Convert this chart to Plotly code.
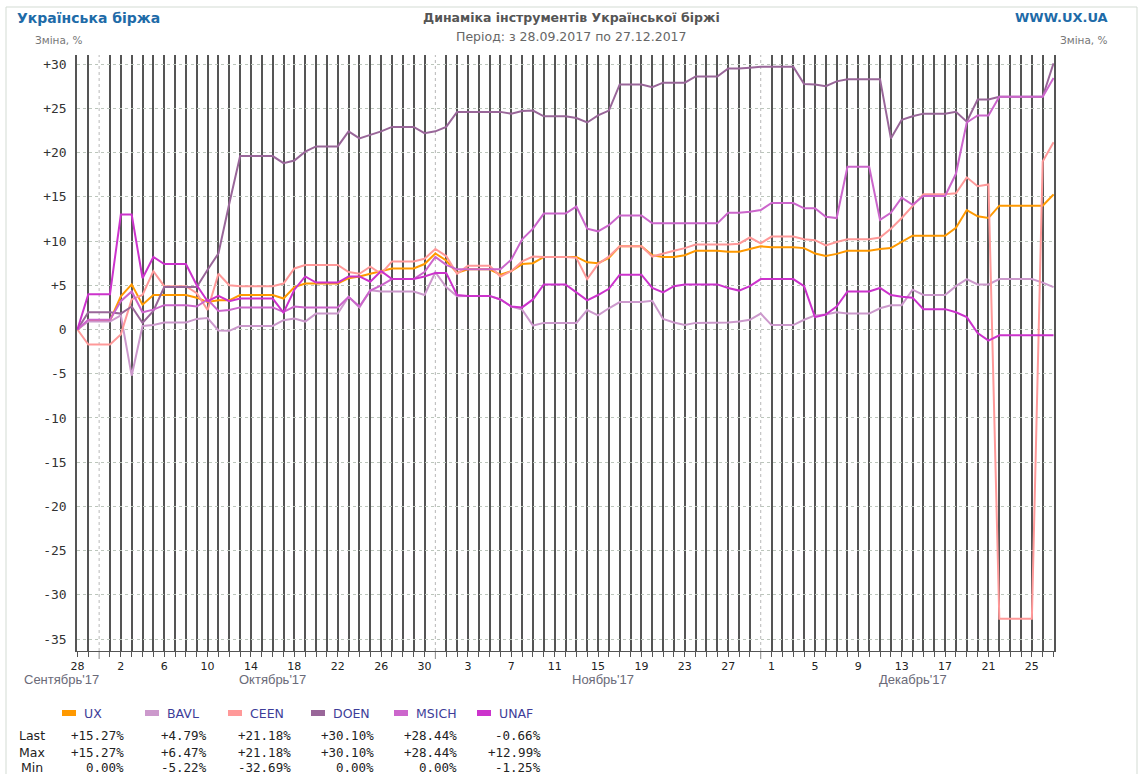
import plotly.graph_objects as go
import pandas as pd

# ---------------- data ----------------
start_date = "2017-09-28"
end_date = "2017-12-27"
dates = pd.date_range(start_date, end_date, freq="D")

series_names = ["UX", "BAVL", "CEEN", "DOEN", "MSICH", "UNAF"]

ux = [0, 1.0, 1.0, 1.0, 3.75, 5.1, 2.8, 3.9, 3.9, 3.9,
      3.9, 3.6, 3.1, 3.3, 3.3, 3.9, 3.9, 3.9, 3.9, 3.5,
      4.8, 5.2, 5.2, 5.2, 5.2, 5.8, 6.0, 6.3, 6.6, 6.9,
      6.9, 6.9, 7.4, 8.6, 7.8, 6.4, 6.8, 6.8, 6.8, 6.2,
      6.6, 7.4, 7.5, 8.2, 8.2, 8.2, 8.2, 7.6, 7.5, 8.1,
      9.4, 9.4, 9.4, 8.4, 8.2, 8.2, 8.4, 8.9, 8.9, 8.9,
      8.8, 8.8, 9.1, 9.4, 9.3, 9.3, 9.3, 9.2, 8.6, 8.3,
      8.55, 8.9, 8.9, 8.9, 9.1, 9.2, 9.9, 10.6, 10.6, 10.6,
      10.6, 11.5, 13.5, 12.8, 12.6, 14.0, 14.0, 14.0, 14.0, 14.0,
      15.27]

bavl = [0, 0.9, 0.9, 0.9, 1.6, -5.22, 0.4, 0.5, 0.8, 0.8,
        0.8, 1.2, 1.3, -0.1, -0.15, 0.4, 0.4, 0.4, 0.4, 1.05,
        1.25, 0.9, 1.8, 1.8, 1.8, 3.7, 2.5, 4.45, 4.3, 4.3,
        4.3, 4.3, 3.9, 6.47, 4.8, 3.75, 3.8, 3.8, 3.8, 3.4,
        2.6, 2.25, 0.45, 0.75, 0.75, 0.75, 0.75, 2.2, 1.6, 2.4,
        3.1, 3.1, 3.1, 3.25, 1.2, 0.8, 0.5, 0.75, 0.75, 0.75,
        0.8, 0.9, 1.1, 1.8, 0.5, 0.5, 0.5, 1.1, 1.6, 1.7,
        1.95, 1.8, 1.8, 1.8, 2.4, 2.75, 2.75, 4.5, 3.9, 3.9,
        3.9, 4.9, 5.7, 5.1, 5.1, 5.7, 5.7, 5.7, 5.7, 5.3,
        4.79]

ceen = [0, -1.7, -1.7, -1.7, -0.55, 3.4, 3.9, 6.6, 4.9, 4.9,
        4.9, 4.1, 2.2, 6.3, 5.0, 4.9, 4.9, 4.9, 4.9, 5.2,
        6.9, 7.3, 7.3, 7.3, 7.3, 6.5, 6.3, 7.1, 6.3, 7.7,
        7.7, 7.7, 8.0, 9.1, 8.3, 6.3, 7.2, 7.2, 7.2, 6.0,
        6.6, 7.7, 8.25, 8.2, 8.2, 8.2, 8.1, 5.7, 7.4, 8.25,
        9.4, 9.4, 9.4, 8.25, 8.6, 8.9, 9.2, 9.6, 9.6, 9.6,
        9.6, 9.7, 10.4, 9.75, 10.5, 10.5, 10.5, 10.2, 10.1, 9.5,
        9.9, 10.2, 10.2, 10.2, 10.4, 11.4, 12.6, 13.9, 15.3, 15.3,
        15.3, 15.4, 17.2, 16.2, 16.4, -32.69, -32.69, -32.69, -32.69, 19.0,
        21.18]

doen = [0, 1.95, 1.95, 1.95, 1.8, 2.6, 0.75, 2.1, 4.8, 4.8,
        4.8, 4.8, 6.75, 8.6, 14.25, 19.6, 19.6, 19.6, 19.6, 18.8,
        19.1, 20.1, 20.7, 20.7, 20.7, 22.4, 21.6, 22.0, 22.4, 22.9,
        22.9, 22.9, 22.2, 22.4, 22.9, 24.6, 24.6, 24.6, 24.6, 24.6,
        24.4, 24.7, 24.75, 24.1, 24.1, 24.1, 23.9, 23.4, 24.2, 24.75,
        27.7, 27.7, 27.7, 27.4, 27.9, 27.9, 27.9, 28.6, 28.6, 28.6,
        29.5, 29.5, 29.6, 29.7, 29.7, 29.7, 29.7, 27.75, 27.7, 27.5,
        28.05, 28.3, 28.3, 28.3, 28.3, 21.6, 23.7, 24.1, 24.4, 24.4,
        24.4, 24.6, 23.5, 26.0, 26.0, 26.3, 26.3, 26.3, 26.3, 26.3,
        30.10]

msich = [0, 1.1, 1.1, 1.1, 3.2, 4.3, 1.95, 2.25, 2.75, 2.75,
         2.75, 2.6, 3.4, 2.1, 2.2, 2.5, 2.5, 2.5, 2.5, 2.0,
         2.6, 2.5, 2.5, 2.5, 2.5, 3.7, 2.6, 4.4, 5.0, 5.7,
         5.7, 5.7, 6.5, 8.2, 7.3, 6.8, 6.8, 6.8, 6.8, 6.8,
         7.9, 10.2, 11.4, 13.1, 13.1, 13.1, 13.9, 11.4, 11.1, 11.8,
         12.9, 12.9, 12.9, 12.0, 12.0, 12.0, 12.0, 12.0, 12.0, 12.0,
         13.2, 13.2, 13.3, 13.5, 14.3, 14.3, 14.3, 13.7, 13.7, 12.75,
         12.6, 18.4, 18.4, 18.4, 12.4, 13.2, 14.9, 14.1, 15.1, 15.1,
         15.1, 17.6, 23.4, 24.2, 24.2, 26.3, 26.3, 26.3, 26.3, 26.3,
         28.44]

unaf = [0, 4.0, 4.0, 4.0, 12.99, 12.99, 5.8, 8.2, 7.4, 7.4,
        7.4, 5.0, 3.2, 3.8, 3.2, 3.5, 3.5, 3.5, 3.5, 1.9,
        4.5, 6.0, 5.3, 5.3, 5.3, 6.0, 6.0, 5.4, 6.6, 5.7,
        5.7, 5.7, 6.0, 6.4, 6.4, 3.9, 3.8, 3.8, 3.8, 3.4,
        2.6, 2.5, 3.4, 5.1, 5.1, 5.1, 4.2, 3.3, 3.9, 4.6,
        6.2, 6.2, 6.2, 4.7, 4.2, 4.9, 5.1, 5.1, 5.1, 5.1,
        4.7, 4.4, 4.9, 5.7, 5.7, 5.7, 5.7, 4.9, 1.4, 1.7,
        2.6, 4.3, 4.3, 4.3, 4.7, 3.9, 3.7, 3.6, 2.3, 2.3,
        2.3, 1.95, 1.4, -0.4, -1.25, -0.66, -0.66, -0.66, -0.66, -0.66,
        -0.66]

series_values = [ux, bavl, ceen, doen, msich, unaf]
series_colors = ["#FF9900", "#CC99CC", "#FF9999", "#996699", "#CC66CC", "#CC33CC"]

y_tick_values = list(range(-35, 31, 5))
month_names = {9: "Сентябрь'17", 10: "Октябрь'17", 11: "Ноябрь'17", 12: "Декабрь'17"}

title_main = "Динаміка інструментів Української біржі"
title_period = "Період: з 28.09.2017 по 27.12.2017"
brand_left = "Українська біржа"
brand_right = "WWW.UX.UA"
axis_unit = "Зміна, %"
row_labels = ["Last", "Max", "Min"]

# ---------------- layout geometry ----------------
W, H = 1140, 774
L, R, T, B = 77, 1140 - 1054, 55, 774 - 651
PW = W - L - R
PH = H - T - B


def pxx(x):
    return (x - L) / PW


def pxy(y):
    return (H - B - y) / PH


SANS = "DejaVu Sans"
MONO = "DejaVu Sans Mono"

fig = go.Figure()
for name, vals, col in zip(series_names, series_values, series_colors):
    fig.add_trace(go.Scatter(x=dates, y=vals, mode="lines", name=name,
                             line=dict(color=col, width=2),
                             showlegend=False, hoverinfo="x+y+name"))

# x ticks: every day has a dark line except month ends (light dotted)
date_list = list(dates)
day_ticks, day_text = [], []
for i, d in enumerate(date_list):
    if d.is_month_end:
        continue
    day_ticks.append(d)
    day_text.append(str(d.day) if i % 4 == 0 else "")
month_ends = [d for d in date_list if d.is_month_end]

shapes = []
for d in month_ends:
    shapes.append(dict(type="line", xref="x", yref="paper", x0=d, x1=d, y0=0, y1=1,
                       line=dict(color="#b8b8b8", width=1, dash="dot"), layer="below"))
    shapes.append(dict(type="line", xref="x", yref="paper", x0=d, x1=d, y0=0, y1=-8 / PH,
                       line=dict(color="#888888", width=1), layer="below"))

# legend swatches
for i, (name, col) in enumerate(zip(series_names, series_colors)):
    x0 = 62 + 83 * i
    shapes.append(dict(type="rect", xref="paper", yref="paper",
                       x0=pxx(x0), x1=pxx(x0 + 14), y0=pxy(716), y1=pxy(710),
                       fillcolor=col, line=dict(width=0)))

# outer border
shapes.append(dict(type="rect", xref="paper", yref="paper",
                   x0=pxx(6), x1=pxx(1137), y0=pxy(800), y1=pxy(7),
                   line=dict(color="#d3dbd3", width=1), fillcolor="rgba(0,0,0,0)"))

annotations = []


def ann(text, x, y, size, color, xanchor="center", family=SANS, bold=False):
    t = f"<b>{text}</b>" if bold else text
    annotations.append(dict(text=t, x=pxx(x), y=pxy(y), xref="paper", yref="paper",
                            showarrow=False, xanchor=xanchor, yanchor="middle",
                            font=dict(family=family, size=size, color=color)))


ann(title_main, 571, 18, 12.5, "#555555", bold=True)
ann(title_period, 571, 37, 12.5, "#666666")
ann(brand_left, 15, 18, 14, "#1E6BA8", xanchor="left", bold=True)
ann(brand_right, 1110, 18, 13, "#1E6BA8", xanchor="right", bold=True)
ann(axis_unit, 33, 40, 10.5, "#777777", xanchor="left")
ann(axis_unit, 1110, 40, 10.5, "#777777", xanchor="right")

# month labels
months = sorted(set(d.month for d in date_list), key=lambda m: (m < 9, m))
for m in months:
    md = [d for d in date_list if d.month == m]
    text = month_names[m]
    if m == date_list[0].month:
        ann(text, 22, 679, 13, "#6a6a78", xanchor="left", family="Liberation Sans")
    else:
        mid = md[0] + (md[-1] - md[0]) / 2
        annotations.append(dict(text=text, x=mid, y=pxy(679), xref="x", yref="paper",
                                showarrow=False, xanchor="center", yanchor="middle",
                                font=dict(family="Liberation Sans", size=13, color="#6a6a78")))

# legend labels
for i, name in enumerate(series_names):
    ann(name, 82 + 83 * i, 713, 12.5, "#3d3d99", xanchor="left")


def fmt(v):
    s = f"{abs(v):.2f}%"
    if v > 0:
        return "+" + s
    if v < 0:
        return "-" + s
    return s


rows_y = [735, 752, 767]
for lab, y in zip(row_labels, rows_y):
    ann(lab, 32, y, 12.5, "#222222")
for i, vals in enumerate(series_values):
    stats = [vals[-1], max(vals), min(vals)]
    for v, y in zip(stats, rows_y):
        ann(fmt(v), 126 + 83.3 * i, y, 12.5, "#222222", xanchor="right", family=MONO)


def ylab(v, pad=False):
    s = ("+" + str(v)) if v > 0 else str(v)
    if pad:
        s = "\u00a0" * (3 - len(s)) + s
    return s


fig.update_layout(
    width=W, height=H,
    margin=dict(l=L, r=R, t=T, b=B, pad=0),
    paper_bgcolor="white", plot_bgcolor="white",
    showlegend=False,
    shapes=shapes,
    annotations=annotations,
    xaxis=dict(type="date",
               range=[dates[0] - pd.Timedelta(hours=1), dates[-1] + pd.Timedelta(hours=1)],
               tickmode="array", tickvals=day_ticks, ticktext=day_text,
               showgrid=True, gridcolor="#555555", gridwidth=1.5,
               ticks="outside", ticklen=5, tickcolor="#555555", tickwidth=1,
               showline=True, linecolor="#555555", linewidth=1,
               zeroline=False,
               tickfont=dict(family=SANS, size=11, color="#222222")),
    yaxis=dict(range=[-36.34, 31.03],
               tickmode="array", tickvals=y_tick_values,
               ticktext=[ylab(v) for v in y_tick_values],
               showgrid=True, gridcolor="#bcc6bc", griddash="dot", gridwidth=1,
               zeroline=False, ticks="",
               showline=True, mirror=True, linecolor="#555555", linewidth=1.5,
               ticklabelstandoff=6,
               tickfont=dict(family=MONO, size=13, color="#333333")),
    yaxis2=dict(range=[-36.34, 31.03], overlaying="y", side="right", anchor="x",
                tickmode="array", tickvals=y_tick_values,
                ticktext=[ylab(v, pad=True) for v in y_tick_values],
                showgrid=False, zeroline=False, ticks="", showline=False,
                ticklabelstandoff=16,
                tickfont=dict(family=MONO, size=13, color="#333333")),
)

fig.write_html("out.html", config={"displayModeBar": False},
               post_script="document.body.style.margin='0';")
